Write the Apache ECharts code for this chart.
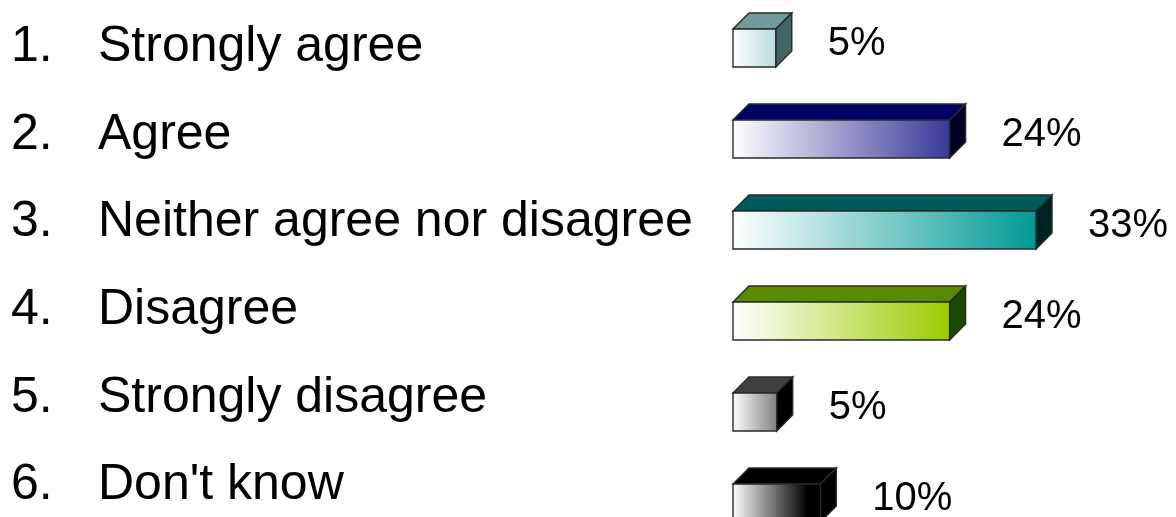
<!DOCTYPE html>
<html><head><meta charset="utf-8">
<script src="https://cdn.jsdelivr.net/npm/echarts@6/dist/echarts.min.js"></script>
<style>html,body{margin:0;padding:0;background:#fff}#c{width:1176px;height:517px}</style>
</head><body><div id="c"></div>
<script>
// ---- data ----
const numbers = ['1.', '2.', '3.', '4.', '5.', '6.'];
const categories = ['Strongly agree', 'Agree', 'Neither agree nor disagree', 'Disagree', 'Strongly disagree', "Don't know"];
const values = [4.7, 23.8, 33.3, 23.8, 4.8, 9.6];
const valueLabels = ['5%', '24%', '33%', '24%', '5%', '10%'];

// ---- styles ----
const faceStyles = [
  { end: '#b6dbde', stop: 1, top: '#6f9b9b', side: '#416565' },
  { end: '#38389a', stop: 1, top: '#000066', side: '#000022' },
  { end: '#009a96', stop: 1, top: '#005a58', side: '#002220' },
  { end: '#99cc00', stop: 1, top: '#5a8a00', side: '#1a4a00' },
  { end: '#808080', stop: 1, top: '#404040', side: '#000000' },
  { end: '#000000', stop: 0.85, top: '#000000', side: '#000000' }
];
const FONT = "'Liberation Sans', Arial, sans-serif";

function renderItem(params, api) {
  const i = api.value(1);
  const v = api.value(0);
  const p0 = api.coord([0, i]);
  const p1 = api.coord([v, i]);
  const h = 38, d = 16;
  const x0 = p0[0], x1 = p1[0], yT = p0[1] - h / 2, yB = p0[1] + h / 2;
  const s = faceStyles[params.dataIndex];
  const stroke = '#2a2a2a', lw = 1.4;
  return {
    type: 'group',
    children: [
      { type: 'polygon', shape: { points: [[x0, yT], [x0 + d, yT - d], [x1 + d, yT - d], [x1, yT]] },
        style: { fill: s.top, stroke: stroke, lineWidth: lw } },
      { type: 'polygon', shape: { points: [[x1, yT], [x1 + d, yT - d], [x1 + d, yB - d], [x1, yB]] },
        style: { fill: s.side, stroke: stroke, lineWidth: lw } },
      { type: 'rect', shape: { x: x0, y: yT, width: x1 - x0, height: h },
        style: { fill: new echarts.graphic.LinearGradient(0, 0, 1, 0, [
          { offset: 0, color: '#ffffff' }, { offset: s.stop, color: s.end }, { offset: 1, color: s.end }]),
          stroke: stroke, lineWidth: lw } },
      { type: 'text', x: x1 + 52, y: p0[1] - 4,
        style: { text: valueLabels[params.dataIndex], fontSize: 40, fontFamily: FONT, fill: '#000',
          align: 'left', verticalAlign: 'middle' } }
    ]
  };
}

const chart = echarts.init(document.getElementById('c'), null, { renderer: 'canvas' });
chart.setOption({
  backgroundColor: '#ffffff',
  animation: false,
  grid: [
    { left: 733, top: 2.5, width: 364, height: 546, outerBoundsMode: 'none', containLabel: false },
    { left: 11, top: 3.5, width: 600, height: 526, outerBoundsMode: 'none', containLabel: false }
  ],
  xAxis: [
    { gridIndex: 0, type: 'value', min: 0, max: 40, show: false },
    { gridIndex: 1, type: 'value', min: 0, max: 1, show: false }
  ],
  yAxis: [
    { gridIndex: 0, type: 'category', data: categories, inverse: true, show: false },
    { gridIndex: 1, type: 'category', data: categories, inverse: true,
      axisLine: { show: false }, axisTick: { show: false }, splitLine: { show: false },
      axisLabel: {
        inside: true, margin: 0,
        formatter: function (val, idx) { return '{n|' + numbers[idx] + '}{t|' + val + '}'; },
        rich: {
          n: { width: 87, fontSize: 50, fontFamily: FONT, color: '#000' },
          t: { fontSize: 50, fontFamily: FONT, color: '#000' }
        }
      } }
  ],
  series: [
    { type: 'custom', xAxisIndex: 0, yAxisIndex: 0, renderItem: renderItem, clip: false,
      encode: { x: 0, y: 1 }, data: values.map(function (v, i) { return [v, i]; }) },
    { type: 'scatter', xAxisIndex: 1, yAxisIndex: 1, data: [], silent: true }
  ]
});
</script></body></html>
